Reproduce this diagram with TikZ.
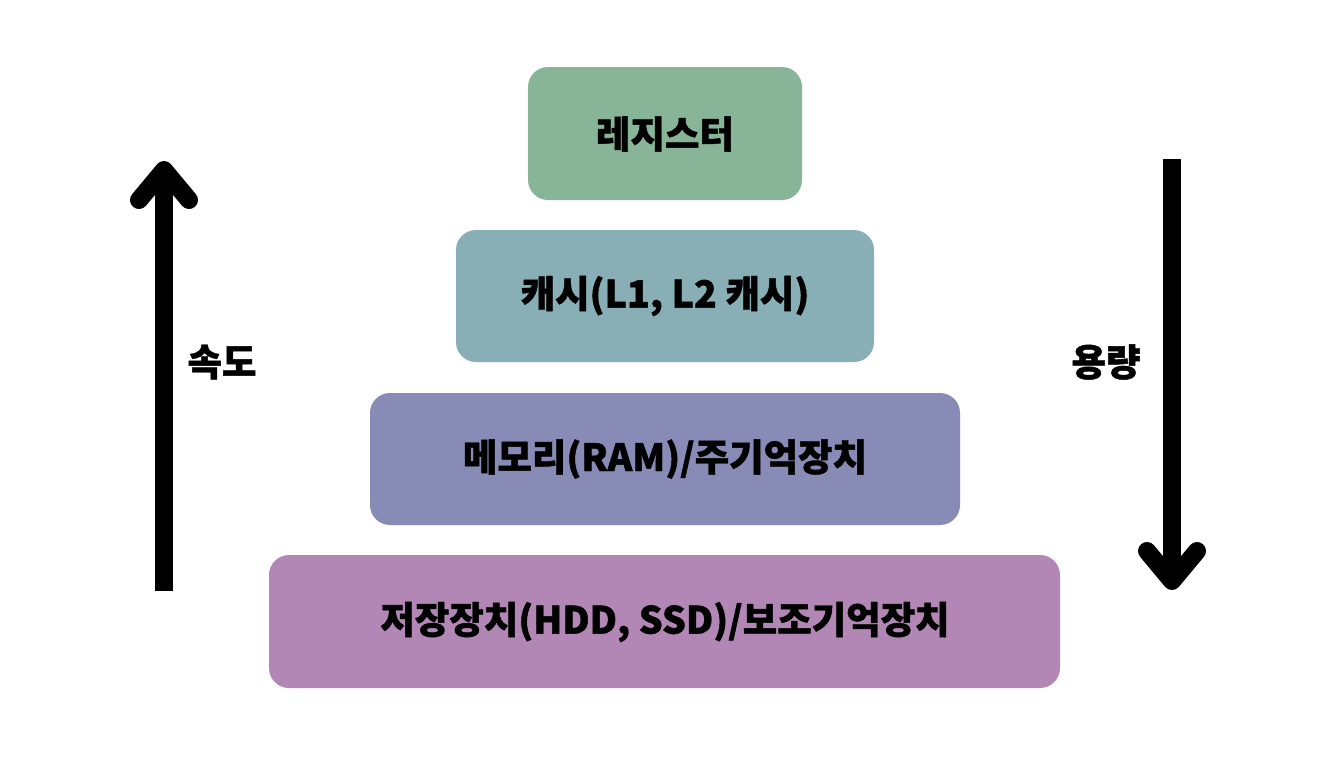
\documentclass[tikz,border=0pt]{standalone}
\usepackage{fontspec}
\setmainfont{Noto Sans CJK KR}[BoldFeatures={FakeBold=1.2}]
\begin{document}
\begin{tikzpicture}[x=1pt,y=-1pt,
  lbl/.style={font=\fontsize{37.5}{44}\selectfont\bfseries},
  layerbox/.style={rounded corners=20pt},
  bigarrow/.style={line width=18pt}]
\useasboundingbox[fill=white] (0,0) rectangle (1330,756);
\definecolor{cA}{HTML}{88B597}
\definecolor{cB}{HTML}{88AFB5}
\definecolor{cC}{HTML}{878BB5}
\definecolor{cD}{HTML}{B287B5}
\fill[cA, layerbox] (528,67) rectangle (802,200);
\fill[cB, layerbox] (456,230) rectangle (874,362);
\fill[cC, layerbox] (370,393) rectangle (960,525);
\fill[cD, layerbox] (269,555) rectangle (1060,688);
\node[lbl] (reg) at (665,134) {레지스터};
\node[lbl] (cache) at (665,296) {캐시(L1, L2 캐시)};
\node[lbl] (mem) at (665,459) {메모리(RAM)/주기억장치};
\node[lbl] (sto) at (665,622) {저장장치(HDD, SSD)/보조기억장치};
\node[lbl] (speed) at (222,362) {속도};
\node[lbl] (cap) at (1106,362) {용량};
% up arrow
\coordinate (upb) at (164,591);
\coordinate (upt) at (164,172);
\draw[bigarrow] (upb) -- (upt);
\draw[bigarrow, line cap=round, line join=round] (139,200) -- (164,170) -- (189,200);
% down arrow
\coordinate (dnt) at (1172,159);
\coordinate (dnb) at (1172,578);
\draw[bigarrow] (dnt) -- (dnb);
\draw[bigarrow, line cap=round, line join=round] (1147,551) -- (1172,581) -- (1197,551);
\end{tikzpicture}
\end{document}
